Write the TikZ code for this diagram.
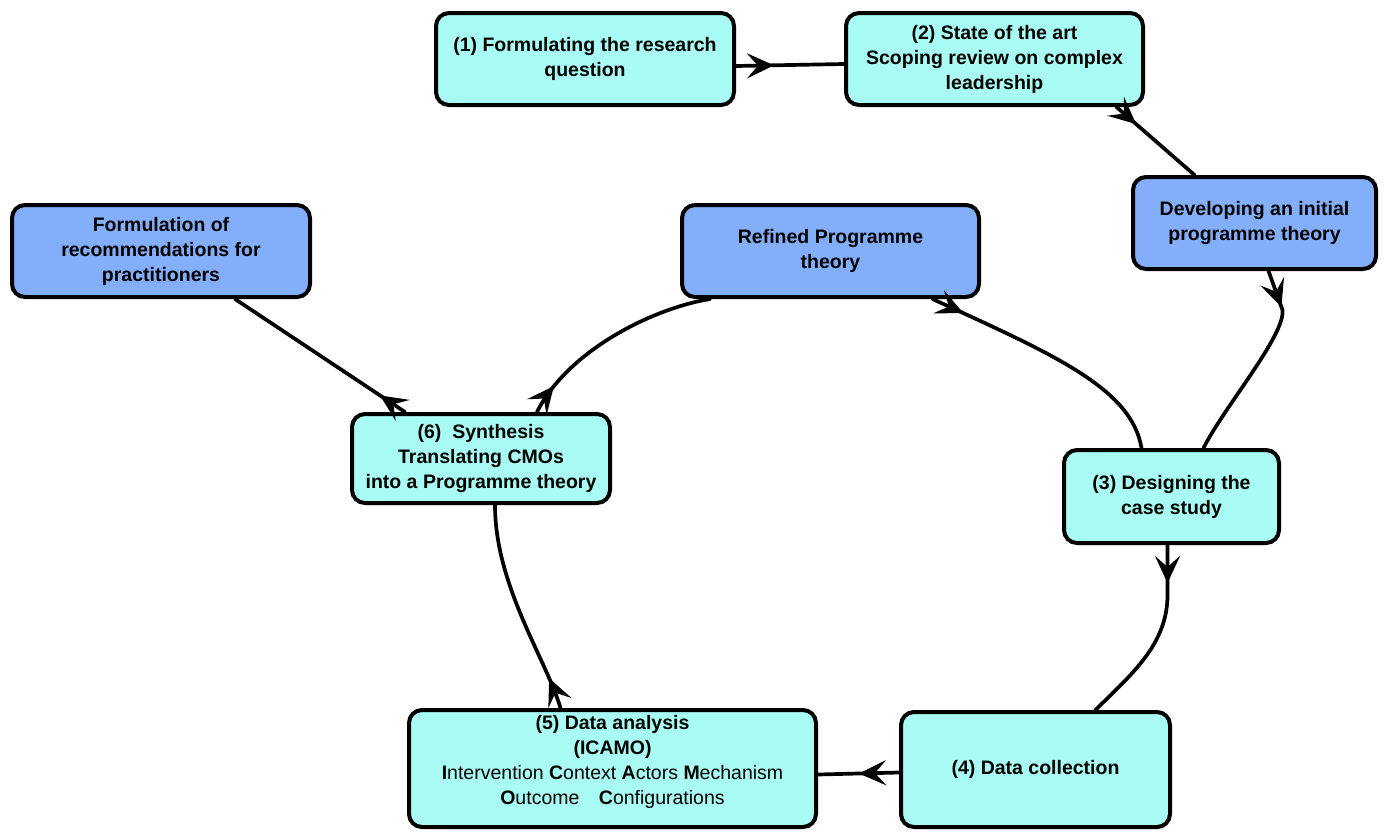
\documentclass[tikz,border=0pt]{standalone}
\usepackage{fontspec}
\setmainfont{Liberation Sans}
\usetikzlibrary{arrows.meta,decorations.markings,calc}
\definecolor{boxcyan}{RGB}{168,252,244}
\definecolor{boxblue}{RGB}{130,174,250}
\begin{document}
\begin{tikzpicture}[x=1pt,y=-1pt,
  box/.style={draw=black, line width=4pt, rounded corners=13pt, align=center, inner sep=0pt,
    font=\fontsize{19.5}{25}\selectfont\bfseries},
  cyanbox/.style={box, fill=boxcyan},
  bluebox/.style={box, fill=boxblue},
  conn/.style={line width=3.7pt, line cap=round},
  arrowat/.style={postaction={decorate}, decoration={markings,
    mark=at position #1 with {\arrow{Stealth[length=27pt,width=25pt,inset=11pt]}}}}
]
\useasboundingbox (0,0) rectangle (1387,831);

\node[cyanbox, minimum width=298pt, minimum height=92pt] (n1) at (585,59) {(1) Formulating the research\\question};
\node[cyanbox, minimum width=297pt, minimum height=92pt] (n2) at (994.5,59) {(2) State of the art\\Scoping review on complex\\leadership};
\node[bluebox, minimum width=243pt, minimum height=92pt] (ndev) at (1254.5,223) {Developing an initial\\programme theory};
\node[bluebox, minimum width=297pt, minimum height=92pt] (nref) at (830.5,251) {Refined Programme\\theory};
\node[bluebox, minimum width=298pt, minimum height=92pt] (nform) at (161,251) {Formulation of\\recommendations for\\practitioners};
\node[cyanbox, minimum width=258pt, minimum height=89pt] (n6) at (481,458.5) {(6)\ \ Synthesis\\Translating CMOs\\into a Programme theory};
\node[cyanbox, minimum width=215pt, minimum height=93pt] (n3) at (1171.5,496.5) {(3) Designing the\\case study};
\node[cyanbox, minimum width=269pt, minimum height=115pt] (n4) at (1035.5,769.5) {(4) Data collection};
\node[cyanbox, minimum width=407pt, minimum height=117pt] (n5) at (612.5,768.5) {};
\node[align=center, inner sep=0pt, font=\fontsize{19.5}{25}\selectfont] (n5text) at ($(n5.center)+(0,-7)$)
  {\textbf{(5) Data analysis}\\\textbf{(ICAMO)}\\\textbf{I}ntervention \textbf{C}ontext \textbf{A}ctors \textbf{M}echanism\\\textbf{O}utcome\quad\textbf{C}onfigurations};

% connectors
\draw[conn, arrowat=38pt] ($(n1.east)+(0,7)$) -- ($(n2.west)+(0,5)$);
\draw[conn, arrowat=26pt] ($(n2.south)+(122,0)$) -- ($(ndev.north)+(-60,0)$);
\draw[conn, arrowat=38pt] ($(ndev.south)+(14,0)$) -- ($(ndev.south)+(28,39)$)
  .. controls +(3,25) and +(20,-40) .. ($(n3.north)+(32,0)$);
\draw[conn, arrowat=38pt] ($(n3.south)+(-4,0)$) -- ++(0,50)
  .. controls +(0,50) and +(35,-35) .. ($(n4.north)+(60,0)$);
\draw[conn, arrowat=40pt] ($(n4.west)+(0,3)$) -- ($(n5.east)+(0,6)$);
\draw[conn, arrowat=32pt] ($(n5.north)+(-52,0)$) .. controls +(-15,-50) and +(0,80) .. ($(n6.south)+(14,0)$);
\draw[conn, arrowat=31pt] ($(n6.north)+(56,0)$) .. controls +(30,-60) and +(-60,10) .. ($(nref.south)+(-120.5,0)$);
\draw[conn, arrowat=30pt] ($(n6.north)+(-76,0)$) -- ($(nform.south)+(74,0)$);
\draw[conn, arrowat=34pt] ($(nref.south)+(102,0)$) .. controls +(120,55) and +(-10,-60) .. ($(n3.north)+(-30,0)$);
\end{tikzpicture}
\end{document}
